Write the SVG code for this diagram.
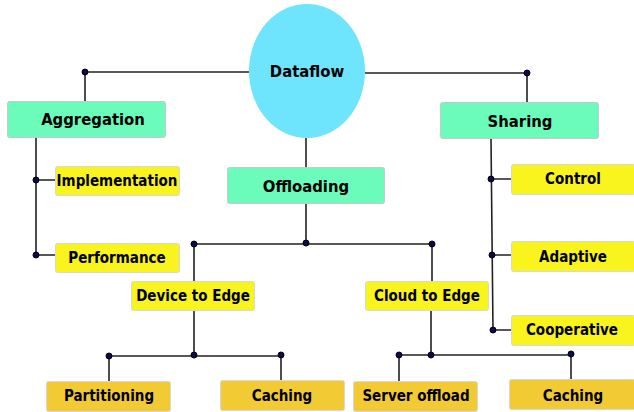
<svg xmlns="http://www.w3.org/2000/svg" width="634" height="412" viewBox="0 0 634 412">
<style>
.g{fill:#6bfcbc;stroke:#c8c8c8;stroke-width:1}
.y{fill:#f9f31e;stroke:#d8d8d8;stroke-width:1}
.o{fill:#f2ca34;stroke:#d8d8d8;stroke-width:1}
.c{fill:#6ee4fd}
text{font-family:"DejaVu Sans Condensed","DejaVu Sans",sans-serif;font-stretch:condensed;font-weight:bold;fill:#000;text-anchor:middle;dominant-baseline:central}
.t16{font-size:16.5px}
.t14{font-size:15px}
#connectors path{fill:none;stroke:#222;stroke-width:1.6}
#connectors circle{fill:#0a0a50;stroke:#000;stroke-width:1}
</style>
<g id="connectors">
<path d="M249,72 H85 V101"/>
<path d="M365,73 H527 V102"/>
<path d="M36,138 V255 H56 M36,180 H56"/>
<path d="M306,138 V167"/>
<path d="M306,204 V244 M194,244 H432 M194,244 V281 M432,244 V281"/>
<path d="M194,311 V355 M109,356 H281 M109,356 V381 M281,355 V380"/>
<path d="M431,311 V355 M399,355 H571 M399,355 V381 M571,354 V379"/>
<path d="M491,139 L493,330 H511 M491,179 H511 M492,255 H512"/>
<circle cx="85" cy="72" r="3"/>
<circle cx="527" cy="73" r="3"/>
<circle cx="36" cy="180" r="3"/>
<circle cx="36" cy="255" r="3"/>
<circle cx="306" cy="243" r="3"/>
<circle cx="194" cy="244" r="3"/>
<circle cx="432" cy="244" r="3"/>
<circle cx="194" cy="355" r="3"/>
<circle cx="109" cy="356" r="3"/>
<circle cx="281" cy="355" r="3"/>
<circle cx="431" cy="355" r="3"/>
<circle cx="399" cy="355" r="3"/>
<circle cx="571" cy="354" r="3"/>
<circle cx="491" cy="179" r="3"/>
<circle cx="492" cy="255" r="3"/>
<circle cx="493" cy="330" r="3"/>
</g>
<g id="dataflow"><ellipse class="c" cx="307" cy="71" rx="58" ry="67"/><text class="t16" x="307" y="71">Dataflow</text></g>
<g id="aggregation"><rect class="g" x="7.5" y="101.5" width="158" height="36" rx="2"/><text class="t16" x="93" y="119">Aggregation</text></g>
<g id="implementation"><rect class="y" x="55.5" y="166.5" width="124" height="29" rx="2"/><text class="t14" x="117" y="181">Implementation</text></g>
<g id="performance"><rect class="y" x="55.5" y="243.5" width="124" height="29" rx="2"/><text class="t14" x="117" y="258">Performance</text></g>
<g id="offloading"><rect class="g" x="227.5" y="167.5" width="157" height="36" rx="2"/><text class="t16" x="306" y="186">Offloading</text></g>
<g id="sharing"><rect class="g" x="440.5" y="102.5" width="158" height="36" rx="2"/><text class="t16" x="520" y="121">Sharing</text></g>
<g id="control"><rect class="y" x="511.5" y="164.5" width="124" height="30" rx="2"/><text class="t14" x="573" y="179">Control</text></g>
<g id="adaptive"><rect class="y" x="511.5" y="241.5" width="124" height="30" rx="2"/><text class="t14" x="573" y="257">Adaptive</text></g>
<g id="cooperative"><rect class="y" x="511.5" y="315.5" width="124" height="30" rx="2"/><text class="t14" x="572" y="330">Cooperative</text></g>
<g id="device-to-edge"><rect class="y" x="131.5" y="281.5" width="123" height="29" rx="2"/><text class="t14" x="193" y="296">Device to Edge</text></g>
<g id="cloud-to-edge"><rect class="y" x="365.5" y="281.5" width="123" height="29" rx="2"/><text class="t14" x="427" y="296">Cloud to Edge</text></g>
<g id="partitioning"><rect class="o" x="46.5" y="381.5" width="124" height="30" rx="2"/><text class="t14" x="109" y="396">Partitioning</text></g>
<g id="caching-1"><rect class="o" x="220.5" y="380.5" width="124" height="30" rx="2"/><text class="t14" x="282" y="396">Caching</text></g>
<g id="server-offload"><rect class="o" x="353.5" y="381.5" width="124" height="30" rx="2"/><text class="t14" x="416" y="396">Server offload</text></g>
<g id="caching-2"><rect class="o" x="509.5" y="379.5" width="126" height="30" rx="2"/><text class="t14" x="573" y="396">Caching</text></g>
</svg>
